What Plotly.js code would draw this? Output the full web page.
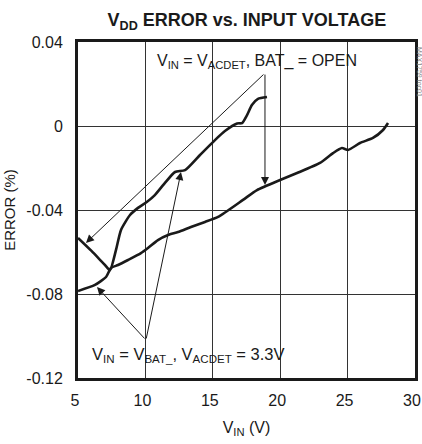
<!DOCTYPE html>
<html>
<head>
<meta charset="utf-8">
<script src="https://cdn.plot.ly/plotly-3.0.1.min.js"></script>
<style>html,body{margin:0;padding:0;background:#fff;}#chart{width:422px;height:444px;}</style>
</head>
<body>
<div id="chart"></div>
<script>
// Curve: VIN = VACDET, BAT_ = OPEN
const acdetX = [5, 6, 7, 7.37, 7.82, 8.19, 8.86, 9.45, 10.1, 10.7, 11.45, 12.2, 12.94, 14.05, 15.16, 15.9, 16.8, 17.17, 17.54, 17.9, 18.35, 19.02];
const acdetY = [-0.0533, -0.0595, -0.0662, -0.0686, -0.059, -0.0495, -0.0424, -0.039, -0.0362, -0.0329, -0.0271, -0.0219, -0.021, -0.0138, -0.0067, -0.0024, 0.0012, 0.0014, 0.0052, 0.01, 0.0129, 0.0138];
// Curve: VIN = VBAT_, VACDET = 3.3V
const batX = [5, 6.26, 7.08, 7.45, 7.97, 8.71, 9.67, 10.19, 10.93, 11.68, 12.42, 13.38, 14.42, 15.39, 17.24, 18.28, 19.99, 21.25, 22.95, 23.92, 24.58, 25.03, 25.92, 26.88, 27.63, 28.0];
const batY = [-0.0786, -0.0757, -0.0719, -0.0676, -0.0662, -0.0638, -0.0605, -0.0581, -0.0543, -0.0519, -0.0505, -0.0481, -0.0457, -0.0433, -0.0352, -0.0305, -0.0257, -0.0224, -0.0176, -0.0129, -0.0105, -0.0114, -0.0081, -0.0057, -0.0019, 0.0014];
const xTicks = [5, 10, 15, 20, 25, 30];
const yTicks = [-0.12, -0.08, -0.04, 0, 0.04];
const yTickText = ["-0.12", "-0.08", "-0.04", "0", "0.04"];

const FONT = "'Liberation Sans Narrow', 'Arial Narrow', 'Liberation Sans', Arial, sans-serif";
const lineStyle = {color: '#1a1a1a', width: 2.6, shape: 'spline', smoothing: 0.6};

const traces = [
  {x: acdetX, y: acdetY, mode: 'lines', line: lineStyle, hoverinfo: 'skip'},
  {x: batX, y: batY, mode: 'lines', line: lineStyle, hoverinfo: 'skip'}
];

function arrow(tx, ty, tailx, taily) {
  return {x: tx, y: ty, ax: tailx, ay: taily, xref: 'x', yref: 'y', axref: 'x', ayref: 'y',
    showarrow: true, arrowhead: 2, arrowsize: 1.6, arrowwidth: 1, arrowcolor: '#1a1a1a', text: ''};
}

const annotations = [
  {x: 18.28, y: 0.0305, xref: 'x', yref: 'y', showarrow: false,
   text: 'V<sub>IN</sub> = V<sub>ACDET</sub>, BAT_ = OPEN', font: {family: FONT, size: 16, color: '#1a1a1a'}},
  arrow(5.59, -0.0557, 18.87, 0.0252),
  arrow(18.87, -0.0281, 18.87, 0.0252),
  {x: 13.16, y: -0.109, xref: 'x', yref: 'y', showarrow: false,
   text: 'V<sub>IN</sub> = V<sub>BAT_</sub>, V<sub>ACDET</sub> = 3.3V', font: {family: FONT, size: 16.5, color: '#1a1a1a'}},
  arrow(6.41, -0.0767, 10.04, -0.1019),
  arrow(12.64, -0.0219, 10.04, -0.1019),
  {x: 1, y: 1, xref: 'paper', yref: 'paper', xanchor: 'center', yanchor: 'top', xshift: 5, yshift: -3, showarrow: false,
   text: 'MAX1759 toc01', textangle: 90, font: {family: FONT, size: 7, color: '#888'}}
];

const layout = {
  width: 422, height: 444,
  margin: {l: 78, r: 7, t: 42, b: 66},
  paper_bgcolor: '#fff', plot_bgcolor: '#fff',
  showlegend: false,
  font: {family: FONT, size: 15, color: '#1a1a1a'},
  title: {text: '<b>V<sub>DD</sub> ERROR vs. INPUT VOLTAGE</b>', x: 0.585, xanchor: 'center', y: 0.97, yanchor: 'top',
          font: {family: FONT, size: 18, color: '#1a1a1a'}},
  xaxis: {range: [5, 30], tickvals: xTicks, ticktext: xTicks.map(String), showgrid: true, gridcolor: '#333', gridwidth: 1,
          showline: true, mirror: true, linecolor: '#1a1a1a', linewidth: 3, ticks: '', zeroline: false,
          ticklabeloverflow: 'allow', ticklabelstandoff: 6, ticklabelshift: -3,
          title: {text: 'V<sub>IN</sub> (V)', font: {family: FONT, size: 16}, standoff: 14}, tickfont: {family: FONT, size: 16}},
  yaxis: {range: [-0.12, 0.04], tickvals: yTicks, ticktext: yTickText, showgrid: true, gridcolor: '#333', gridwidth: 1,
          showline: true, mirror: true, linecolor: '#1a1a1a', linewidth: 3, ticks: '', zeroline: false,
          ticklabelstandoff: 9,
          title: {text: 'ERROR (%)', font: {family: FONT, size: 15}, standoff: 8}, tickfont: {family: FONT, size: 16}},
  annotations: annotations
};

Plotly.newPlot('chart', traces, layout, {displayModeBar: false, staticPlot: true});
</script>
</body>
</html>
